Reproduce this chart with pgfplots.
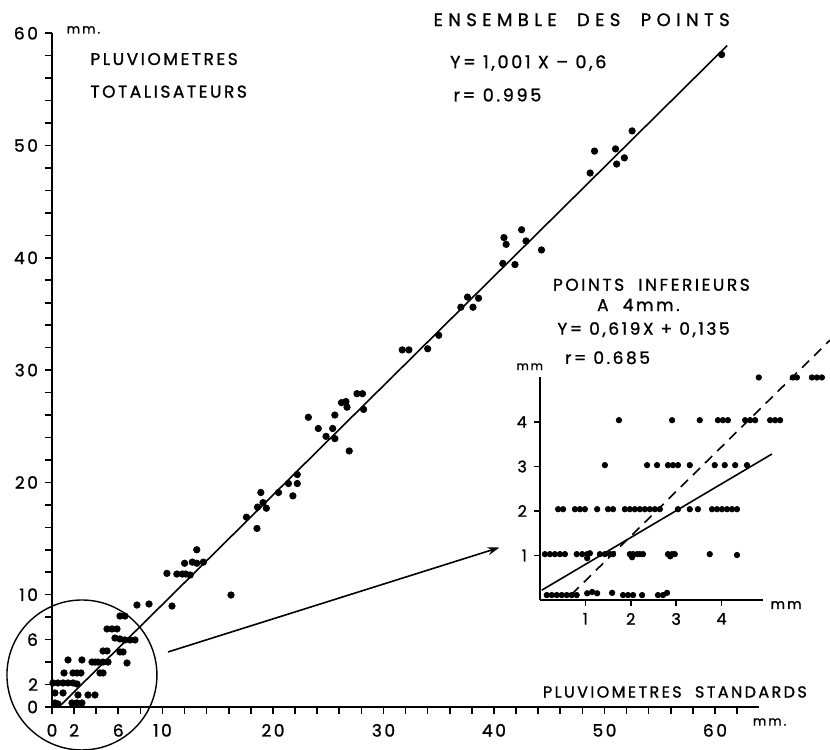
\documentclass[border=0pt]{standalone}
\usepackage{fontspec}
\setmainfont{Poppins}
\newfontfamily\lt[LetterSpace=15, FakeBold=1.2]{Poppins}
\newfontfamily\ltw[LetterSpace=30, FakeBold=1.2]{Poppins}
\usepackage{pgfplots}
\pgfplotsset{compat=1.18}
\usetikzlibrary{arrows.meta}

\begin{document}
\begin{tikzpicture}
\begin{axis}[
    x=5.525pt, y=5.615pt,
    xmin=0, xmax=64, ymin=0, ymax=60,
    axis lines*=left,
    clip=false,
    tick align=outside,
    major tick length=3.5pt, minor tick length=3.5pt,
    tick style={black, line width=0.8pt},
    xtick={0,2,6,10,20,30,40,50,60},
    ytick={0,2,6,10,20,30,40,50,60},
    minor xtick={0,2,...,62},
    minor ytick={0,2,...,60},
    x axis line style={line width=1pt},
    y axis line style={line width=1.4pt},
    ticklabel style={font=\lt\fontsize{8.5}{10}\selectfont},
    xticklabel style={yshift=-1.5pt},
    /pgf/number format/assume math mode=true,
]
% ensemble des points
\addplot[only marks, mark=*, mark size=1.6pt] coordinates {
    (7.69,9.08) (8.78,9.17) (10.86,8.99)
    (6.15,8.10) (6.60,8.10)
    (4.98,6.95) (5.43,6.95) (5.88,6.95)
    (5.70,6.14) (6.15,6.06) (6.60,5.97) (7.06,5.97) (7.51,5.97)
    (4.62,4.99) (4.98,4.99) (6.15,4.90) (6.43,4.90)
    (6.79,3.92)
    (1.45,4.19) (2.71,4.19)
    (3.62,4.00) (3.89,4.00) (4.16,4.00) (4.62,4.00) (5.07,4.00)
    (4.34,3.03) (4.62,3.03)
    (1.09,3.03) (1.90,3.03) (2.26,3.03) (2.62,3.03)
    (0.09,2.14) (0.54,2.14) (1.00,2.14) (1.45,2.14) (1.90,2.14) (2.26,2.05)
    (0.27,1.25) (1.00,1.25) (2.35,1.07) (3.26,1.07) (3.89,1.07)
    (0.27,0.36) (0.54,0.27) (1.81,0.36) (2.26,0.36) (2.71,0.36)
    (16.2,9.97)
    (10.4,11.9) (11.3,11.84) (11.8,11.84) (12.1,11.84) (12.5,11.75)
    (12.0,12.8) (12.7,12.9) (13.1,12.8) (13.7,12.9)
    (13.1,14.0)
    (17.6,16.9) (18.55,15.9)
    (18.6,17.8) (19.1,18.2) (19.4,17.7) (18.9,19.1)
    (20.5,19.1) (21.8,18.8) (21.4,19.9) (22.2,20.7) (22.2,19.9)
    (23.2,25.8) (24.1,24.8) (24.8,24.1) (25.4,24.8) (25.6,26.0) (25.6,23.9) (26.9,22.8)
    (26.2,27.1) (26.6,27.2) (26.7,26.7) (27.6,27.9) (28.1,27.9) (28.2,26.5)
    (31.7,31.8) (32.3,31.8) (34.0,31.9) (35.0,33.1)
    (37.0,35.6) (37.6,36.5) (38.1,35.6) (38.6,36.4)
    (40.8,39.5) (41.9,39.4) (40.9,41.8) (41.1,41.2) (42.5,42.5) (42.9,41.5) (44.3,40.7)
    (48.7,47.55) (49.1,49.5) (51.0,49.7) (51.8,48.9) (51.1,48.35) (52.5,51.3)
    (60.6,58.1)
};
% droite de regression
\addplot[black, line width=0.8pt] coordinates {(0.62,0) (61.1,58.9)};

\draw[line width=0.7pt] (axis cs:2.71,2.85) circle[radius=37.5pt];
\draw[line width=0.8pt, -{Stealth[length=6pt, width=4pt]}] (axis cs:10.5,4.9) -- (axis cs:40.5,14.2);

\node[anchor=west, inner sep=0, font=\lt\fontsize{6.5}{8}\selectfont] at (axis cs:1.3,60.3) {mm.};
\node[anchor=west, inner sep=0, font=\lt\fontsize{8.5}{10}\selectfont] at (axis cs:3.44,57.7) {PLUVIOMETRES};
\node[anchor=west, inner sep=0, font=\lt\fontsize{8.5}{10}\selectfont] at (axis cs:3.44,54.8) {TOTALISATEURS};
\node[anchor=west, inner sep=0, font=\ltw\fontsize{9}{11}\selectfont] at (axis cs:34.5,61.2) {ENSEMBLE\ \ DES\ \ POINTS};
\node[anchor=west, inner sep=0, font=\lt\fontsize{8.8}{10}\selectfont] at (axis cs:36.0,57.35) {Y= 1,001 X – 0,6};
\node[anchor=west, inner sep=0, font=\lt\fontsize{8.8}{10}\selectfont] at (axis cs:36.3,54.5) {r= 0.995};
\node[anchor=west, inner sep=0, font=\lt\fontsize{8.5}{10}\selectfont] at (axis cs:45.3,37.6) {POINTS\ \ INFERIEURS};
\node[anchor=west, inner sep=0, font=\lt\fontsize{8.5}{10}\selectfont] at (axis cs:49.3,35.8) {A\ \ 4mm.};
\node[anchor=west, inner sep=0, font=\lt\fontsize{8.5}{10}\selectfont] at (axis cs:45.7,33.6) {Y= 0,619X + 0,135};
\node[anchor=west, inner sep=0, font=\lt\fontsize{8.5}{10}\selectfont] at (axis cs:46.4,31.1) {r= 0.685};
\node[anchor=west, inner sep=0, font=\lt\fontsize{6}{7}\selectfont] at (axis cs:42.0,30.3) {mm};
\node[anchor=west, inner sep=0, font=\lt\fontsize{7}{8}\selectfont] at (axis cs:65.0,9.08) {mm};
\node[anchor=west, inner sep=0, font=\lt\fontsize{8}{9}\selectfont] at (axis cs:44.4,1.34) {PLUVIOMETRES\ \ STANDARDS};
\node[anchor=west, inner sep=0, font=\lt\fontsize{6.5}{8}\selectfont] at (axis cs:63.4,-1.34) {mm.};

\coordinate (io) at (axis cs:44.16,9.53);
\coordinate (bl) at (axis cs:-4.706,-3.829);
\coordinate (tr) at (axis cs:70.41,62.96);
\end{axis}

% points inferieurs a 4 mm
\begin{axis}[
    at={(io)}, anchor=south west,
    x=22.7pt, y=22.25pt,
    xmin=0, xmax=4.91, ymin=0, ymax=5.01,
    axis lines*=left,
    clip=false,
    tick align=outside,
    major tick length=3pt,
    tick style={black, line width=0.8pt},
    xtick={1,2,3,4}, ytick={1,2,3,4},
    axis line style={line width=1pt},
    ticklabel style={font=\lt\fontsize{8}{9}\selectfont},
    /pgf/number format/assume math mode=true,
]
\addplot[only marks, mark=*, mark size=1.35pt] coordinates {
    (0.15,0.11) (0.26,0.11) (0.37,0.11) (0.48,0.11) (0.59,0.11) (0.70,0.11) (0.81,0.11)
    (1.04,0.15) (1.15,0.18) (1.26,0.15) (1.59,0.16) (1.83,0.11) (1.94,0.11) (2.05,0.11)
    (2.25,0.11) (2.60,0.11) (2.71,0.11) (2.80,0.16)
    (0.11,1.03) (0.22,1.03) (0.33,1.03) (0.44,1.03) (0.55,1.03) (0.81,1.03) (0.93,1.03)
    (1.04,1.03) (1.10,1.05) (1.04,0.94) (1.32,1.03) (1.43,1.03) (1.54,1.03) (1.61,1.03)
    (1.98,1.03) (2.05,1.03) (2.14,1.03) (2.20,1.03) (2.27,1.03) (2.03,0.96)
    (2.82,1.03) (2.91,1.03) (2.97,1.03) (2.87,0.98) (3.74,1.03) (4.34,1.01)
    (0.40,2.04) (0.51,2.04) (0.77,2.04) (0.88,2.04) (0.99,2.04) (1.26,2.04) (1.50,2.04)
    (1.61,2.04) (1.87,2.04) (1.98,2.04) (2.09,2.04) (2.20,2.04) (2.31,2.04) (2.42,2.04)
    (2.53,2.04) (2.64,2.04) (3.04,2.04) (3.30,2.04) (3.48,2.04) (3.79,2.04) (3.90,2.04)
    (4.01,2.04) (4.12,2.04) (4.23,2.04) (4.34,2.04)
    (1.43,3.03) (2.36,3.03) (2.58,3.03) (2.82,3.03) (2.93,3.03) (3.04,3.03) (3.30,3.03)
    (3.85,3.03) (4.07,3.03) (4.30,3.03) (4.56,3.03)
    (1.74,4.04) (2.91,4.04) (3.52,4.04) (3.92,4.04) (4.03,4.04) (4.14,4.04) (4.52,4.04)
    (4.63,4.04) (4.74,4.04) (5.07,4.04) (5.18,4.04) (5.29,4.04)
    (4.82,5.0) (5.57,5.0) (5.66,5.0) (5.99,5.0) (6.10,5.0) (6.21,5.0)
};
\addplot[black, line width=0.8pt] coordinates {(0.04,0.22) (5.11,3.28)};
\addplot[black, line width=0.8pt, dash pattern=on 5pt off 3.5pt] coordinates {(0.70,0.13) (6.39,5.84)};
\end{axis}
\pgfresetboundingbox
\path (bl) rectangle (tr);
\end{tikzpicture}
\end{document}
